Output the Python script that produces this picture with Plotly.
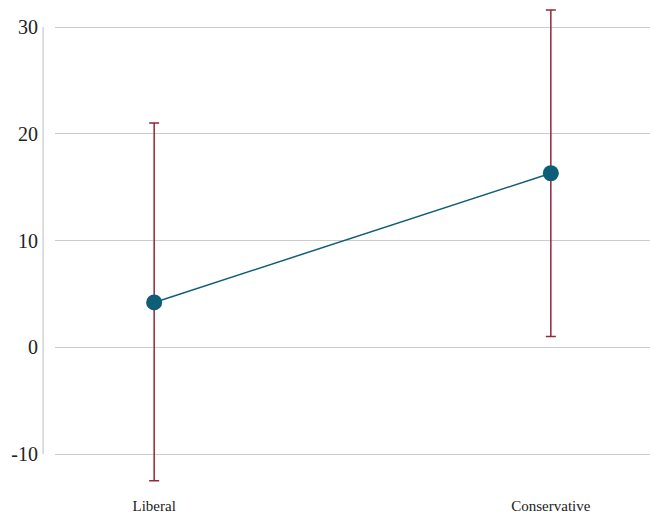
import plotly.graph_objects as go

categories = ["Liberal", "Conservative"]
estimates = [4.2, 16.3]
upper = [21.0, 31.6]
lower = [-12.5, 1.0]
ytick_vals = [-10, 0, 10, 20, 30]
ytick_text = ["-10", "0", "10", "20", "30"]

err_plus = [u - e for u, e in zip(upper, estimates)]
err_minus = [e - l for e, l in zip(estimates, lower)]

fig = go.Figure()
fig.add_trace(go.Scatter(
    x=[0, 1], y=estimates,
    mode="lines+markers",
    line=dict(color="#0f5e78", width=1.5),
    marker=dict(color="#0f5e78", size=16),
    error_y=dict(type="data", symmetric=False, array=err_plus, arrayminus=err_minus,
                 color="#922838", thickness=1.5, width=5),
    showlegend=False,
))

fig.add_shape(type="line", xref="paper", yref="y", x0=-0.02, x1=-0.02, y0=-10, y1=30,
              line=dict(color="#d4d4d4", width=1.5), layer="above")

fig.update_layout(
    width=654, height=518,
    margin=dict(l=55, r=4, t=0, b=28),
    plot_bgcolor="white", paper_bgcolor="white",
    font=dict(family="Liberation Serif", color="#222222"),
    xaxis=dict(range=[-0.25, 1.25], tickvals=[0, 1], ticktext=categories,
               showgrid=False, zeroline=False, showline=False,
               ticks="outside", ticklen=2, tickcolor="rgba(0,0,0,0)",
               tickfont=dict(size=15, family="Liberation Serif")),
    yaxis=dict(range=[-13.37, 32.53], tickvals=ytick_vals, ticktext=ytick_text,
               showgrid=True, gridcolor="#cccccc", gridwidth=1, zeroline=False,
               showline=False, ticklabelstandoff=16,
               tickfont=dict(size=20, family="Liberation Serif")),
)

fig.write_html("out.html", post_script="document.body.style.margin='0';",
               config={"displayModeBar": False})
